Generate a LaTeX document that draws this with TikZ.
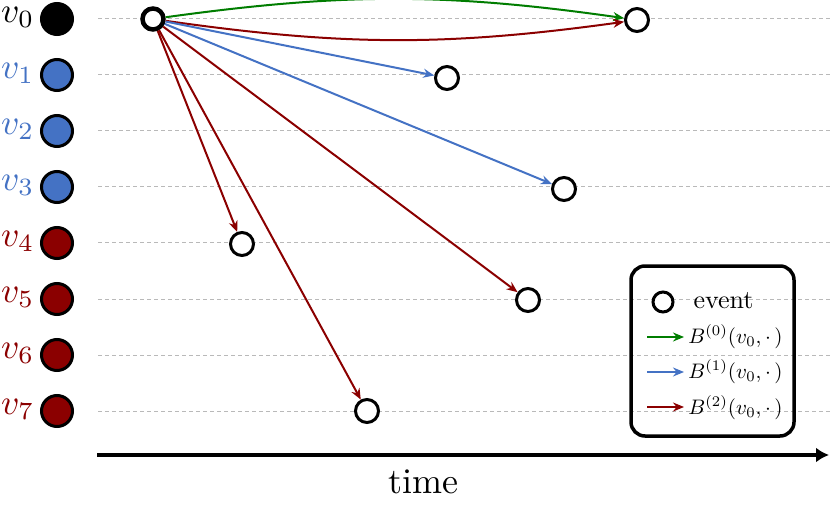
\documentclass[tikz,border=0pt]{standalone}
\usetikzlibrary{arrows.meta}
\definecolor{cgreen}{RGB}{0,125,0}
\definecolor{cblue}{RGB}{68,114,196}
\definecolor{cred}{RGB}{139,0,0}
\begin{document}
\begin{tikzpicture}[x=1pt,y=-1pt,
  rowline/.style={draw=gray!55,line width=1pt,dash pattern=on 4pt off 3pt},
  vdot/.style={circle,draw=black,line width=3pt,minimum size=31pt,inner sep=0pt},
  vlab/.style={anchor=base east,inner sep=0pt,scale=3.55},
  event/.style={circle,draw=black,fill=white,line width=3pt,minimum size=23pt,inner sep=0pt},
  src/.style={circle,draw=black,fill=white,line width=4.5pt,minimum size=21pt,inner sep=0pt},
  arr/.style={line width=2pt,-{Stealth[length=11pt,width=9pt]}},
  legtext/.style={anchor=base west,inner sep=0pt,scale=2.1}
  ]
\useasboundingbox (0,0) rectangle (830,505);
% rows
\foreach \i/\c in {0/black,1/cblue,2/cblue,3/cblue,4/cred,5/cred,6/cred,7/cred}{
  \pgfmathsetmacro{\yy}{19+56*\i}
  \coordinate (ls\i) at (98,\yy);
  \coordinate (le\i) at (830,\yy);
  \draw[rowline] (ls\i) -- (le\i);
  \node[vdot,fill=\c] (d\i) at (57,\yy) {};
  \node[vlab,text=\c] (l\i) at (35,\yy+3.5) {$v_{\i}$};
}
% events
\node[src] (s) at (153,19) {};
\node[event] (e0) at (637,20) {};
\node[event] (e1) at (447,78) {};
\node[event] (e3) at (564,189) {};
\node[event] (e4) at (242,244) {};
\node[event] (e5) at (528,300) {};
\node[event] (e7) at (367,411) {};
% connectors
\draw[arr,cgreen] (s) to[bend left=8] (e0);
\draw[arr,cred] (s) to[bend right=8] (e0);
\draw[arr,cblue] (s) -- (e1);
\draw[arr,cblue] (s) -- (e3);
\draw[arr,cred] (s) -- (e4);
\draw[arr,cred] (s) -- (e5);
\draw[arr,cred] (s) -- (e7);
% time axis
\coordinate (t0) at (97,455);
\coordinate (t1) at (829,455);
\draw[line width=4pt,-{Latex[length=13pt,width=15pt]}] (t0) -- (t1);
\node[anchor=base,inner sep=0pt,scale=3.6] (time) at (423,493) {time};
% legend
\node[draw=black,line width=3.5pt,rounded corners=14pt,minimum width=163pt,minimum height=170pt,inner sep=0pt] (leg) at (712.5,351) {};
\node[event,minimum size=20pt] (le) at (663,302) {};
\node[anchor=base west,inner sep=0pt,scale=2.6] (lt) at (693,308) {event};
\coordinate (a0s) at (647,337); \coordinate (a0e) at (684,337);
\coordinate (a1s) at (647,372); \coordinate (a1e) at (684,372);
\coordinate (a2s) at (647,407); \coordinate (a2e) at (684,407);
\draw[arr,cgreen] (a0s) -- (a0e);
\draw[arr,cblue] (a1s) -- (a1e);
\draw[arr,cred] (a2s) -- (a2e);
\node[legtext] (b0) at (688,343) {$B^{(0)}(v_0,\cdot\,)$};
\node[legtext] (b1) at (688,378) {$B^{(1)}(v_0,\cdot\,)$};
\node[legtext] (b2) at (688,414) {$B^{(2)}(v_0,\cdot\,)$};
\end{tikzpicture}
\end{document}
